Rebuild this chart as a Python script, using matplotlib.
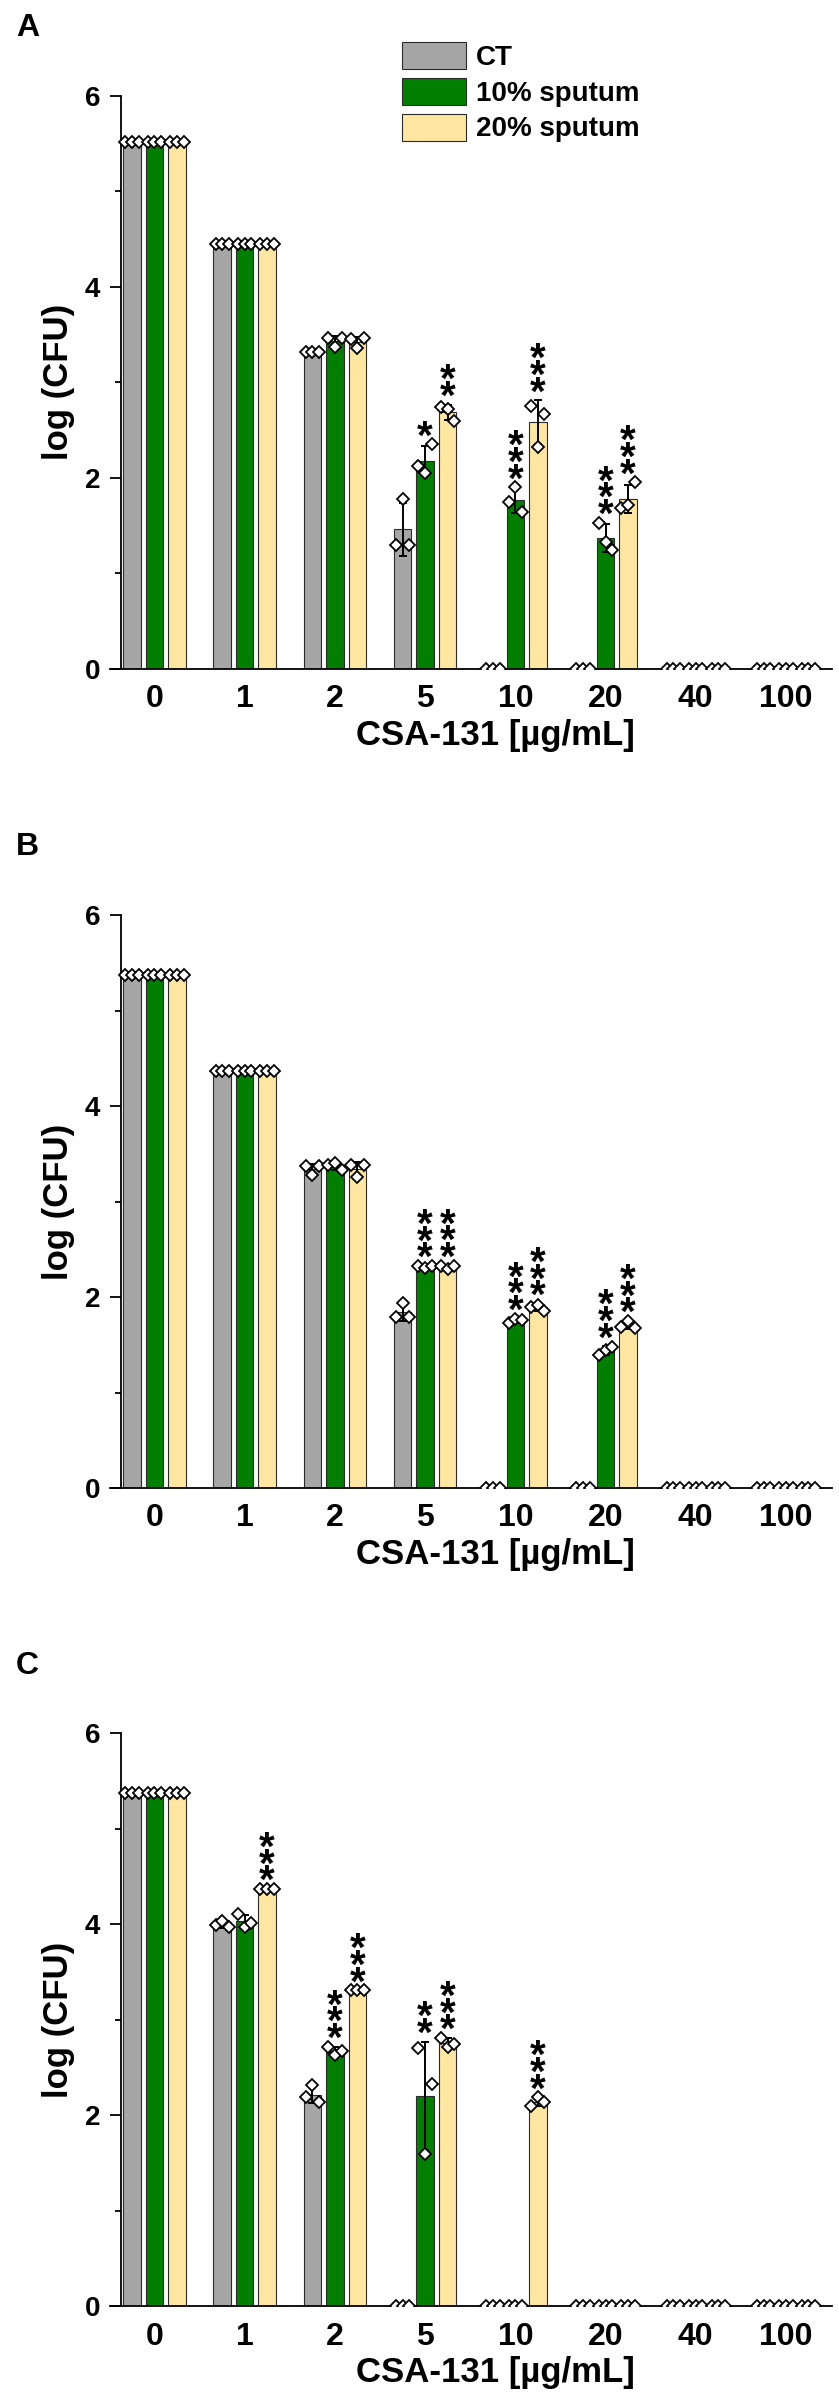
import numpy as np
import matplotlib.pyplot as plt
from matplotlib.ticker import MultipleLocator

plt.rcParams['font.family'] = ['Liberation Sans', 'DejaVu Sans']
plt.rcParams['font.weight'] = 'bold'
plt.rcParams['axes.labelweight'] = 'bold'

conc = ['0', '1', '2', '5', '10', '20', '40', '100']
groups = ['CT', '10% sputum', '20% sputum']
colors = ['#A6A6A6', '#007F00', '#FFE6A1']

# log(CFU) replicates, three per concentration (left, middle, right diamond)
a_ct = [[5.52, 5.52, 5.52], [4.45, 4.45, 4.45], [3.32, 3.32, 3.32], [1.30, 1.78, 1.30],
        [0, 0, 0], [0, 0, 0], [0, 0, 0], [0, 0, 0]]
a_s10 = [[5.52, 5.52, 5.52], [4.45, 4.45, 4.45], [3.46, 3.37, 3.46], [2.12, 2.05, 2.35],
         [1.75, 1.90, 1.64], [1.53, 1.33, 1.24], [0, 0, 0], [0, 0, 0]]
a_s20 = [[5.52, 5.52, 5.52], [4.45, 4.45, 4.45], [3.45, 3.36, 3.46], [2.74, 2.72, 2.59],
         [2.75, 2.32, 2.67], [1.68, 1.71, 1.95], [0, 0, 0], [0, 0, 0]]

b_ct = [[5.37, 5.37, 5.37], [4.37, 4.37, 4.37], [3.37, 3.28, 3.37], [1.79, 1.94, 1.79],
        [0, 0, 0], [0, 0, 0], [0, 0, 0], [0, 0, 0]]
b_s10 = [[5.37, 5.37, 5.37], [4.37, 4.37, 4.37], [3.38, 3.40, 3.33], [2.32, 2.30, 2.32],
         [1.73, 1.77, 1.76], [1.39, 1.44, 1.48], [0, 0, 0], [0, 0, 0]]
b_s20 = [[5.37, 5.37, 5.37], [4.37, 4.37, 4.37], [3.38, 3.26, 3.38], [2.32, 2.29, 2.32],
         [1.90, 1.92, 1.85], [1.69, 1.75, 1.68], [0, 0, 0], [0, 0, 0]]

c_ct = [[5.37, 5.37, 5.37], [3.99, 4.03, 3.97], [2.19, 2.32, 2.14], [0, 0, 0],
        [0, 0, 0], [0, 0, 0], [0, 0, 0], [0, 0, 0]]
c_s10 = [[5.37, 5.37, 5.37], [4.11, 3.97, 4.01], [2.72, 2.63, 2.67], [2.70, 1.59, 2.33],
         [0, 0, 0], [0, 0, 0], [0, 0, 0], [0, 0, 0]]
c_s20 = [[5.37, 5.37, 5.37], [4.37, 4.37, 4.37], [3.31, 3.31, 3.31], [2.81, 2.72, 2.75],
         [2.10, 2.19, 2.14], [0, 0, 0], [0, 0, 0], [0, 0, 0]]

# significance marks vs CT
no_sig = ['', '', '', '', '', '', '', '']
a_sig10 = ['', '', '', '*', '***', '***', '', '']
a_sig20 = ['', '', '', '**', '***', '***', '', '']
b_sig10 = ['', '', '', '***', '***', '***', '', '']
b_sig20 = ['', '', '', '***', '***', '***', '', '']
c_sig10 = ['', '', '***', '**', '', '', '', '']
c_sig20 = ['', '***', '***', '***', '***', '', '', '']

W, H = 839, 2397
fig = plt.figure(figsize=(W / 100, H / 100), dpi=100)

offs = [-0.249, 0, 0.249]
bw = 0.194
jit = [-0.074, 0, 0.074]


def draw_panel(ax, reps, sigs):
    x = np.arange(len(conc))
    for j in range(3):
        vals = np.array(reps[j])
        means = vals.mean(axis=1)
        sds = vals.std(axis=1, ddof=1)
        xp = x + offs[j]
        ax.bar(xp, means, width=bw, color=colors[j], edgecolor='#2b2b2b',
               linewidth=0.8, zorder=2, label=groups[j])
        ax.errorbar(xp, means, yerr=sds, fmt='none', ecolor='black',
                    elinewidth=1.4, capsize=3, capthick=1.4, zorder=3)
        for k in range(3):
            ax.plot(xp + jit[k], vals[:, k], 'D', ms=6.6, mfc='white',
                    mec='black', mew=1.3, zorder=4)
        # stars stacked one above the other
        for i, s in enumerate(sigs[j]):
            if s:
                top = max(vals[i].max(), means[i] + sds[i])
                ax.annotate('\n'.join(s), (xp[i], top), xytext=(0, -3),
                            textcoords='offset points', ha='center', va='baseline',
                            fontsize=29, fontweight='bold', linespacing=0.29,
                            zorder=5)

    ax.set_xlim(-0.493, 7.51)
    ax.set_ylim(0, 6)
    ax.spines['top'].set_visible(False)
    ax.spines['right'].set_visible(False)
    ax.spines['left'].set_position(('data', -0.371))
    for sp in ['left', 'bottom']:
        ax.spines[sp].set_linewidth(1.3)
    ax.set_yticks([0, 2, 4, 6])
    ax.yaxis.set_minor_locator(MultipleLocator(1))
    ax.tick_params(axis='y', which='major', length=8, width=1.3, labelsize=20, pad=7)
    ax.tick_params(axis='y', which='minor', length=4.5, width=1.3)
    ax.set_xticks(x, conc)
    ax.tick_params(axis='x', length=0, labelsize=23, pad=11)
    ax.set_ylabel('log (CFU)', fontsize=25)
    ax.yaxis.set_label_coords((75 - 110) / 722, 0.5)
    ax.set_xlabel('CSA-131 [µg/mL]', fontsize=25)
    ax.xaxis.set_label_coords((495 - 110) / 722, -0.087)


panels = [
    ('A', 95.7, [a_ct, a_s10, a_s20], [no_sig, a_sig10, a_sig20]),
    ('B', 915.0, [b_ct, b_s10, b_s20], [no_sig, b_sig10, b_sig20]),
    ('C', 1733.3, [c_ct, c_s10, c_s20], [no_sig, c_sig10, c_sig20]),
]

axes = []
for n, (letter, top_px, reps, sigs) in enumerate(panels):
    h_px = 573
    ax = fig.add_axes([110 / W, 1 - (top_px + h_px) / H, 722 / W, h_px / H])
    draw_panel(ax, reps, sigs)
    fig.text(16 / W, 1 - (13 + n * 819) / H, letter, fontsize=23,
             fontweight='bold', ha='left', va='top')
    axes.append(ax)

axes[0].legend(loc='upper left', bbox_to_anchor=(401.7 / W, 1 - 42.3 / H),
               bbox_transform=fig.transFigure, frameon=False, fontsize=20,
               handlelength=2.3, handleheight=1.12, labelspacing=0.24,
               handletextpad=0.37, borderpad=0, borderaxespad=0)

fig.savefig('out.png', dpi=100)
